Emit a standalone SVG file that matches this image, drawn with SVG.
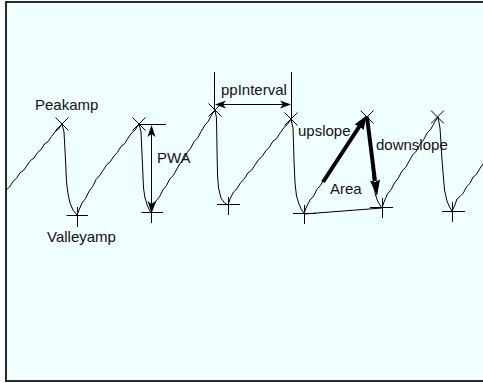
<svg xmlns="http://www.w3.org/2000/svg" width="483" height="383" viewBox="0 0 483 383">
<style>
  .wave{fill:none;stroke:#000;stroke-width:1;stroke-linejoin:round}
  .mark{fill:none;stroke:#000;stroke-width:1}
  .dim{fill:none;stroke:#000;stroke-width:1}
  .thick{fill:none;stroke:#000;stroke-width:4}
  .head{fill:#000;stroke:none}
  text{font-family:"Liberation Sans",Arial,sans-serif;font-size:15px;fill:#111}
</style>
<rect x="0" y="0" width="483" height="383" fill="#ffffff"/>
<rect x="6" y="2" width="490" height="379" fill="#f0ffff" stroke="#2a2a2a" stroke-width="2"/>

<g id="waveform">
  <path class="wave" d="M6,190 L9.5,187.1 13,181.4 16.5,178.3 20,172.7 23.5,170.5 27,165.5 30.5,160.5 34,158 37.5,152.6 41,149.6 44.5,143.9 48,141.7 51.5,136.5 55,131.8 58.5,129 62,124
  L64,132 65.5,160 66.5,182 68,194 70,203 73,210 77,215
  L79,210 82,203 85.5,198.6 89,191.3 92.5,186.8 96,179.6 100,175.1 103.5,169.7 107,164.4 110.5,161.5 114,155.8 117.5,152.4 121,146.4 124.5,143.8 128,138.2 131.5,133.1 135,130 139,124
  L141,132 142.5,165 143.5,188 145,198 147.5,206 151,213
  L153,208 156,201 159.5,196.8 162.9,189.9 166.4,185.6 169.9,178.8 173.4,175.3 176.8,169.1 180.3,162.9 183.8,159.2 187.2,152.5 190.7,148.3 194.2,141.4 197.6,138 201.1,131.5 204.6,125.6 208.1,121.6 211.5,115 215,110
  L216.5,118 217,150 217.5,175 218.5,188 221,198 224.5,203 228,205
  L230,199 233.5,192 237.1,188.6 240.7,182.5 244.3,179 247.9,173 251.5,170.3 255.1,164.8 258.6,159.5 262.2,156.5 265.8,150.7 269.4,147.2 273,141.1 276.6,138.5 280.2,132.8 283.8,127.7 287.4,124.5 291,119
  L293,128 294,160 295,183 296.5,196 299,204 301.5,210 304,213
  L306.5,207 310,200 313.6,196 317.1,189.2 320.7,185.1 324.3,178.5 327.8,175.2 331.4,169.1 334.9,163.1 338.5,159.5 342.1,153 345.6,148.9 349.2,142.2 352.8,139 356.3,132.7 359.9,126.9 363.4,123.1 367,117
  L369,128 371.5,160 373.5,185 375.5,195 378,202 382,208
  L384,202 387.5,194 391.1,189.7 394.7,182.6 398.3,178.2 401.9,171.2 405.5,167.6 409.1,161.2 412.7,154.9 416.4,151 420,144.2 423.6,139.8 427.2,132.8 430.8,129.2 434.4,122.6 438,117
  L440,128 442,160 444.5,190 447,201 449.5,207 452,211
  L454.5,206 457,199 460,196.5 463.3,193.1 466.6,186.8 469.9,183.3 473.1,177.1 476.4,174.4 479.7,168.8 483,164 485,161"/>
</g>

<g id="peak-marks">
  <path class="mark" d="M55.5,117.5 L68.5,130.5 M68.5,117.5 L55.5,130.5"/>
  <path class="mark" d="M132.5,117.5 L145.5,130.5 M145.5,117.5 L132.5,130.5"/>
  <path class="mark" d="M208.5,103.5 L221.5,116.5 M221.5,103.5 L208.5,116.5"/>
  <path class="mark" d="M284.5,112.5 L297.5,125.5 M297.5,112.5 L284.5,125.5"/>
  <path class="mark" d="M360.5,110.5 L373.5,123.5 M373.5,110.5 L360.5,123.5"/>
  <path class="mark" d="M431,110.5 L444,123.5 M444,110.5 L431,123.5"/>
</g>

<g id="valley-marks">
  <path class="mark" d="M66.5,215.5 L88,215.5 M77.5,207 L77.5,227"/>
  <path class="mark" d="M141.5,212.5 L163,212.5 M151.5,204 L151.5,223"/>
  <path class="mark" d="M217,204.5 L240,204.5 M228.5,197 L228.5,215"/>
  <path class="mark" d="M293,213.5 L316,213.5 M304.5,205 L304.5,224"/>
  <path class="mark" d="M370,207.5 L393,207.5 M382.5,198 L382.5,218"/>
  <path class="mark" d="M442,211.5 L465,211.5 M452.5,202 L452.5,222"/>
</g>

<g id="connectors">
  <!-- PWA -->
  <path class="dim" d="M139,124.5 L166,124.5"/>
  <path class="dim" d="M151.5,130 L151.5,208"/>
  <path class="head" d="M151.5,125 L155.5,137 L151.5,134 L147.5,137 Z"/>
  <path class="head" d="M151.5,213 L155.5,201 L151.5,204 L147.5,201 Z"/>
  <!-- ppInterval -->
  <path class="dim" d="M214.5,72 L214.5,112 M291.5,72 L291.5,123"/>
  <path class="dim" d="M219,104.5 L286,104.5"/>
  <path class="head" d="M215,104.5 L226,100.5 L223,104.5 L226,108.5 Z"/>
  <path class="head" d="M291,104.5 L280,100.5 L283,104.5 L280,108.5 Z"/>
  <!-- upslope -->
  <path class="thick" d="M323,182 L360,125.5"/>
  <path class="head" d="M366.5,115.5 L363.6,130 L360,126.5 L354.7,124.5 Z"/>
  <!-- downslope -->
  <path class="thick" d="M367,117 L375,181"/>
  <path class="head" d="M377,196 L370,180.7 L375,182 L380,179.5 Z"/>
  <!-- area base -->
  <path class="dim" d="M304,214 L382,208"/>
</g>

<g id="labels">
  <text x="35" y="110">Peakamp</text>
  <text x="47" y="242">Valleyamp</text>
  <text x="157" y="163">PWA</text>
  <text x="221" y="95">ppInterval</text>
  <text x="298" y="136">upslope</text>
  <text x="376" y="150">downslope</text>
  <text x="330" y="194">Area</text>
</g>
</svg>
